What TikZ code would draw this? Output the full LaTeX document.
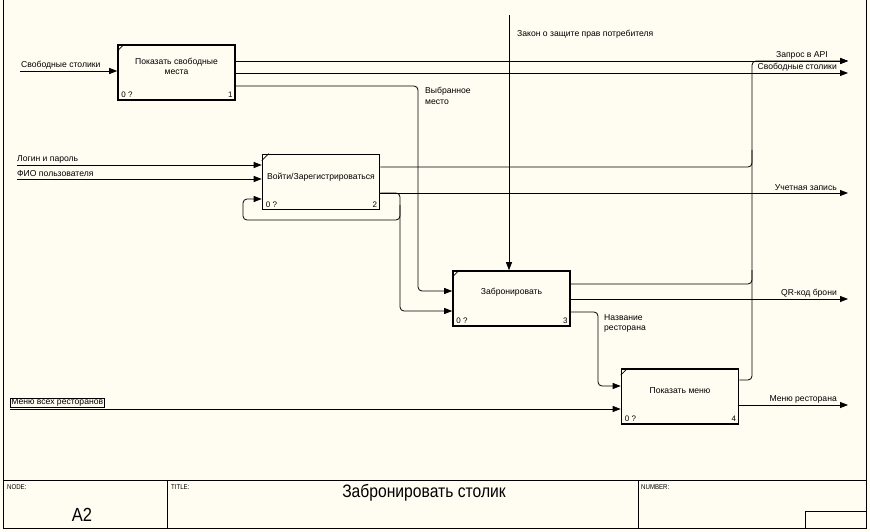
\documentclass[tikz,border=0pt]{standalone}
\usepackage{fontspec}
\setmainfont{Liberation Sans}
\newfontfamily\narrowfont[FakeStretch=0.87]{Liberation Sans}
\usetikzlibrary{arrows.meta}
\definecolor{paper}{RGB}{255,252,242}

\tikzset{
  box/.style={draw,line width=1.6pt,fill=paper,minimum width=117pt,minimum height=55pt,inner sep=0pt},
  flow/.style={line width=0.8pt,rounded corners=4pt,-{Triangle[length=8pt,width=6pt]}},
  pipe/.style={line width=0.8pt,rounded corners=4pt},
  lbl/.style={font=\fontsize{8.6}{10.5}\selectfont,inner sep=1pt,align=left},
  tag/.style={font=\fontsize{8}{8}\selectfont,inner sep=0pt},
  frm/.style={font=\narrowfont\fontsize{7}{7}\selectfont,inner sep=0pt,anchor=north west},
}

\begin{document}
\begin{tikzpicture}[x=1pt,y=-1pt]
  \fill[paper] (0,0) rectangle (870,532);
  \useasboundingbox (0,0) rectangle (870,532);

  % frame and title block
  \draw[line width=1pt] (3,0) -- (3,528) -- (866,528) -- (866,0);
  \draw[line width=1pt] (3,480) -- (866,480);
  \draw[line width=1pt] (167,480) -- (167,528);
  \draw[line width=1pt] (638,480) -- (638,528);
  \draw[line width=1pt] (805,528) -- (805,511) -- (866,511);
  \node[frm] (fNode) at (7,484) {NODE:};
  \node[frm] (fTitle) at (171,484) {TITLE:};
  \node[frm] (fNum) at (641,484) {NUMBER:};
  \node[font=\narrowfont\fontsize{19}{20}\selectfont,inner sep=0pt] (fA) at (82,515) {A2};
  \node[font=\narrowfont\fontsize{18}{19}\selectfont,inner sep=0pt] (fName) at (424,493) {Забронировать столик};

  % activity boxes
  \node[box] (b1) at (176.5,72.5) {};
  \node[box] (b2) at (321,182) {};
  \node[box] (b3) at (511.5,298.5) {};
  \node[box] (b4) at (680,396.5) {};
  \foreach \b/\n in {b1/1,b2/2,b3/3,b4/4}{
    \draw[line width=0.8pt] ([yshift=-7pt]\b.north west) -- ([xshift=7pt]\b.north west);
    \node[tag,anchor=south west] (\b z) at ([xshift=4pt,yshift=3pt]\b.south west) {0 ?};
    \node[tag,anchor=south east] (\b n) at ([xshift=-3pt,yshift=3pt]\b.south east) {\n};
  }
  \node[lbl,align=center] (t1) at ([yshift=6pt]b1.center) {Показать свободные\\места};
  \node[lbl] (t2) at ([yshift=5pt]b2.center) {Войти/Зарегистрироваться};
  \node[lbl] (t3) at ([yshift=6pt]b3.center) {Забронировать};
  \node[lbl] (t4) at ([yshift=6pt]b4.center) {Показать меню};

  % free ends
  \coordinate (sIn) at (20,71);
  \coordinate (lIn) at (17,165);
  \coordinate (fIn) at (17,179);
  \coordinate (mIn) at (10,409);
  \coordinate (law) at (509,15);
  \coordinate (oAPI) at (848,61);
  \coordinate (oFree) at (848,73);
  \coordinate (oAcc) at (848,193);
  \coordinate (oQR) at (848,299);
  \coordinate (oMenu) at (848,405);

  % inputs and control
  \draw[flow] (sIn) -- (b1.west |- sIn);
  \node[lbl,anchor=south west] (lbS) at (20,70) {Свободные столики};
  \draw[flow] (lIn) -- (b2.west |- lIn);
  \node[lbl,anchor=south west] (lbL) at (16,164) {Логин и пароль};
  \draw[flow] (fIn) -- (b2.west |- fIn);
  \node[lbl,anchor=south west] (lbF) at (16,178) {ФИО пользователя};
  \draw[flow] (mIn) -- (b4.west |- mIn);
  \node[lbl,draw,line width=0.6pt,anchor=south west] (lbM) at (10,408) {Меню всех ресторанов};
  \draw[flow] (law) -- (b3.north -| law);
  \node[lbl,anchor=west] (lbLaw) at (516,34) {Закон о защите прав потребителя};

  % box 1
  \draw[flow] (b1.east |- oAPI) -- (oAPI);
  \draw[flow] (b1.east |- oFree) -- (oFree);
  \draw[flow] (b1.east |- 0,86) -- (418,86) -- (418,291) -- (b3.west |- 0,291);
  \node[lbl,anchor=north west] (lbSel) at (424,86) {Выбранное\\место};

  % box 2
  \draw[pipe] (b2.east |- 0,167) -- (752,167) -- (752,150);
  \draw[flow] (b2.east |- oAcc) -- (oAcc);
  \draw[flow] (b2.east |- oAcc) -- (400,193) -- (400,311) -- (b3.west |- 0,311);
  \draw[flow] (400,205) -- (400,220) -- (243,220) -- (243,199) -- (b2.west |- 0,199);

  % box 3
  \draw[pipe] (b3.east |- 0,284) -- (752,284) -- (752,270);
  \draw[flow] (b3.east |- oQR) -- (oQR);
  \draw[flow] (b3.east |- 0,312) -- (598,312) -- (598,386) -- (b4.west |- 0,386);
  \node[lbl,anchor=north west] (lbRest) at (603,313) {Название\\ресторана};

  % box 4
  \draw[flow] (b4.east |- 0,380) -- (752,380) -- (752,61) -- (oAPI);
  \draw[flow] (b4.east |- oMenu) -- (oMenu);

  % output labels
  \node[lbl,anchor=south east] (lbAPI) at (829,60) {Запрос в API};
  \node[lbl,anchor=south east] (lbFree) at (838,72) {Свободные столики};
  \node[lbl,anchor=south east] (lbAcc) at (838,192) {Учетная запись};
  \node[lbl,anchor=south east] (lbQR) at (838,298) {QR-код брони};
  \node[lbl,anchor=south east] (lbMenu) at (838,404) {Меню ресторана};
\end{tikzpicture}
\end{document}
